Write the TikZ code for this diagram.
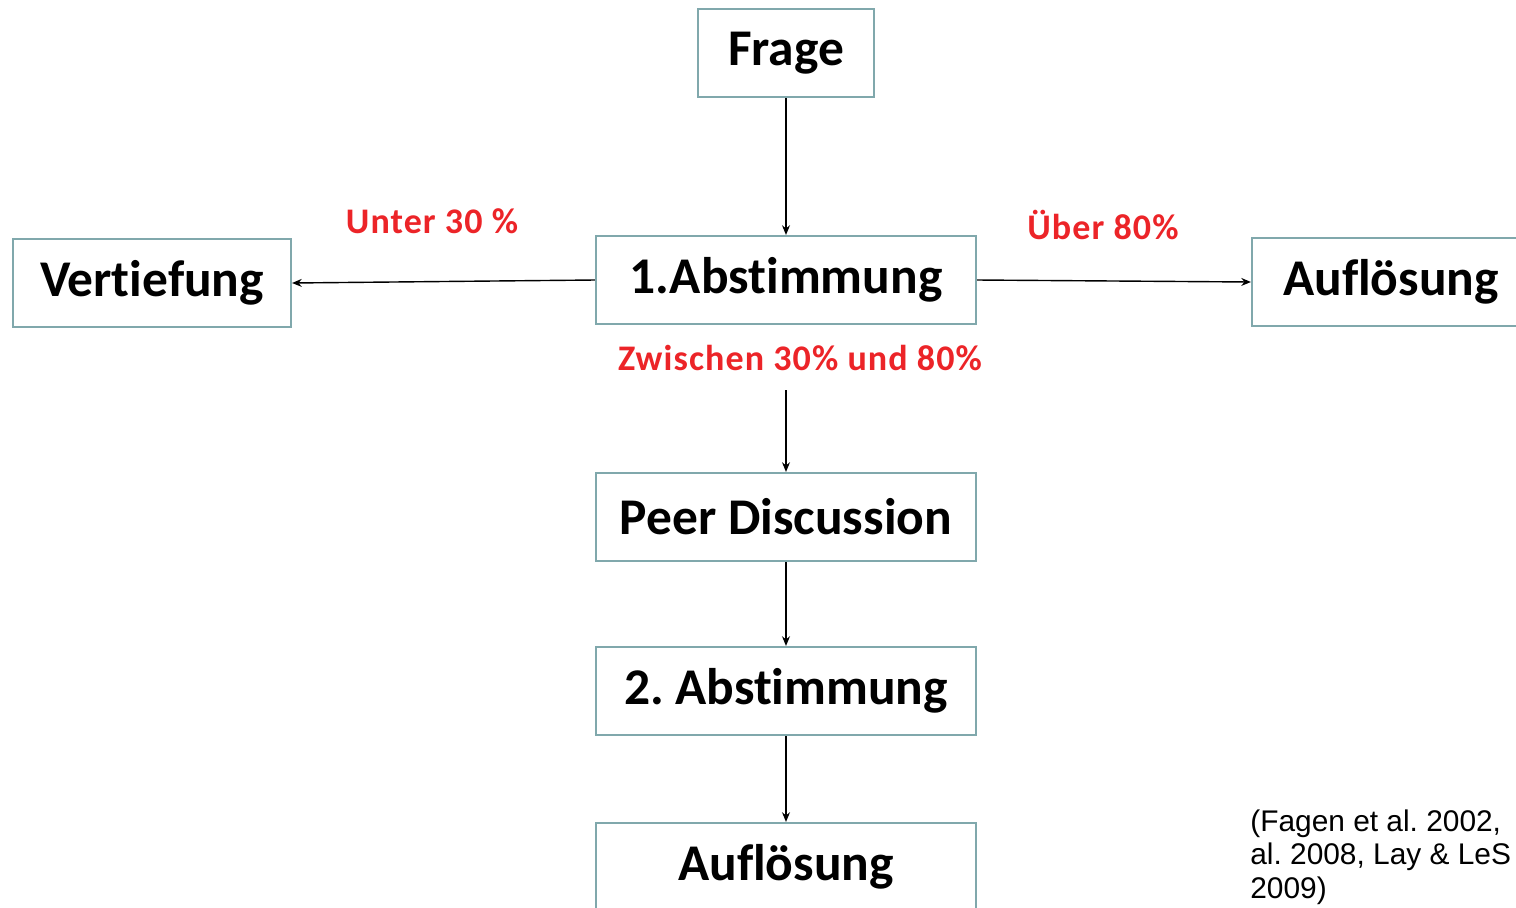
\documentclass[tikz,border=0pt]{standalone}
\usepackage{fontspec}
\setmainfont{Carlito}[Ligatures={NoCommon}]
\newfontfamily\citefont{Liberation Sans}
\newfontfamily\labelfont{Carlito}[Ligatures={NoCommon}, LetterSpace=3]
\usetikzlibrary{arrows.meta}
\definecolor{boxline}{RGB}{128,168,172}
\definecolor{votered}{RGB}{236,36,40}
\frenchspacing
\begin{document}
\begin{tikzpicture}[x=0.02cm, y=-0.02cm,
		stepbox/.style={draw=boxline, line width=1.2pt, fill=white, inner sep=0pt,
			minimum height=88*0.02cm, font=\fontsize{29.3}{32}\selectfont\bfseries},
		votelabel/.style={text=votered, inner sep=0pt, font=\labelfont\fontsize{20.5}{23}\selectfont\bfseries},
		arr/.style={-{Stealth[length=5.5pt, width=4.5pt]}, line width=0.8pt}]
			\useasboundingbox (0,0) rectangle (1516,907);
			\clip (0,0) rectangle (1516,907);
			
			\node[stepbox, minimum width=176*0.02cm] (frage) at (786, 53)	{Frage};
			
			\node[stepbox, minimum width=380*0.02cm] (abst1) at (786, 280)	{1.Abstimmung};
			\node[stepbox, minimum width=278*0.02cm] (vert)  at (152, 283)	{Vertiefung};
			\node[stepbox, minimum width=278*0.02cm] (aufl1) at (1391, 282)	{Auflösung};
			
			\node[stepbox, minimum width=380*0.02cm] (peer)  at (786, 517)	{Peer Discussion};
			\node[stepbox, minimum width=380*0.02cm] (abst2) at (786, 691)	{2. Abstimmung};
			\node[stepbox, minimum width=380*0.02cm] (aufl2) at (786, 867)	{Auflösung};
			
			\node[votelabel] (unter)    at (432, 221)	{Unter 30 \%};
			\node[votelabel] (ueber)    at (1103, 225)	{Über 80\%};
			\node[votelabel] (zwischen) at (800, 358)	{Zwischen 30\% und 80\%};
			\coordinate (split) at (786, 390);
			
			\node[anchor=north west, align=left, inner sep=0pt,
				font=\citefont\fontsize{17}{19.3}\selectfont] (quelle) at (1250, 809)
				{(Fagen et al. 2002,\\al. 2008, Lay \& LeS\\2009)};
			
			\draw[arr] (frage) -- (abst1);
			\draw[arr] (abst1.west) -- (vert.east);
			\draw[arr] (abst1.east) -- (aufl1.west);
			\draw[arr] (split) -- (peer);
			\draw[arr] (peer) -- (abst2);
			\draw[arr] (abst2) -- (aufl2);
		\end{tikzpicture}
\end{document}
